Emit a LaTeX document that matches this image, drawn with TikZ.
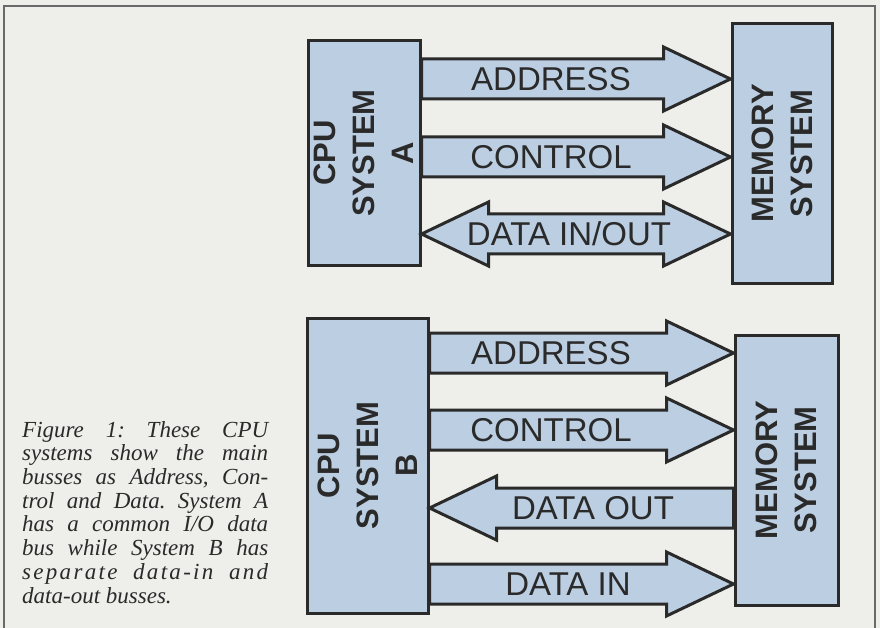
\documentclass[tikz,border=0pt]{standalone}
\usepackage{fontspec}
\setmainfont{Liberation Serif}
\setsansfont{Liberation Sans}
\usetikzlibrary{calc}
\definecolor{busBlue}{RGB}{188,206,226}
\definecolor{paperGrey}{RGB}{238,238,235}
\definecolor{inkGrey}{RGB}{42,42,42}
\definecolor{frameGrey}{RGB}{105,105,105}
\pgfmathsetmacro{\shaftHalf}{20}
\pgfmathsetmacro{\headHalf}{32}
\pgfmathsetmacro{\headLen}{67}
\newcommand{\busRight}[4]{%%
  %% A bus from the CPU to the memory.
  \draw[busStyle] let \p1=(#1.east), \p2=(#2.west), \p3=(#3) in
    (\x1,\y3+\shaftHalf pt) -- (\x2-\headLen pt,\y3+\shaftHalf pt)
    -- (\x2-\headLen pt,\y3+\headHalf pt) -- (\x2,\y3)
    -- (\x2-\headLen pt,\y3-\headHalf pt) -- (\x2-\headLen pt,\y3-\shaftHalf pt)
    -- (\x1,\y3-\shaftHalf pt) -- cycle;
  \node[busLabel] (#3Text) at (#3) {#4};
}
\newcommand{\busLeft}[4]{%%
  %% A bus from the memory back to the CPU.
  \draw[busStyle] let \p1=(#1.west), \p2=(#2.east), \p3=(#3) in
    (\x1,\y3+\shaftHalf pt) -- (\x2+\headLen pt,\y3+\shaftHalf pt)
    -- (\x2+\headLen pt,\y3+\headHalf pt) -- (\x2,\y3)
    -- (\x2+\headLen pt,\y3-\headHalf pt) -- (\x2+\headLen pt,\y3-\shaftHalf pt)
    -- (\x1,\y3-\shaftHalf pt) -- cycle;
  \node[busLabel] (#3Text) at (#3) {#4};
}
\newcommand{\busBoth}[4]{%%
  %% A bus with a head at each end.
  \draw[busStyle] let \p1=(#1.east), \p2=(#2.west), \p3=(#3) in
    (\x1,\y3) -- (\x1+\headLen pt,\y3+\headHalf pt)
    -- (\x1+\headLen pt,\y3+\shaftHalf pt) -- (\x2-\headLen pt,\y3+\shaftHalf pt)
    -- (\x2-\headLen pt,\y3+\headHalf pt) -- (\x2,\y3)
    -- (\x2-\headLen pt,\y3-\headHalf pt) -- (\x2-\headLen pt,\y3-\shaftHalf pt)
    -- (\x1+\headLen pt,\y3-\shaftHalf pt) -- (\x1+\headLen pt,\y3-\headHalf pt)
    -- cycle;
  \node[busLabel] (#3Text) at (#3) {#4};
}
\begin{document}
\begin{tikzpicture}[%%
  x=1pt,y=-1pt,%%
  boxStyle/.style={draw=inkGrey,line width=3pt,fill=busBlue,inner sep=0pt},%%
  boxText/.style={rotate=90,align=center,inner sep=0pt,text=inkGrey,%%
    font=\sffamily\bfseries\fontsize{31}{39}\selectfont},%%
  busStyle/.style={draw=inkGrey,line width=3pt,fill=busBlue,line join=miter},%%
  busLabel/.style={inner sep=0pt,text=inkGrey,font=\sffamily\fontsize{33}{33}\selectfont},%%
  captionStyle/.style={inner sep=0pt,text width=246pt,align=justify,text=inkGrey,%%
    font=\itshape\fontsize{23}{23.7}\selectfont},%%
  frameStyle/.style={draw=frameGrey,line width=1.5pt}
]
%%
%%
\useasboundingbox (0,0) rectangle (880,628);
\fill[paperGrey] (0,0) rectangle (880,628);
\draw[frameStyle] (4,628) -- (4,6) -- (875,6) -- (875,628);
%% System A.
\node[boxStyle,minimum width=112pt,minimum height=224pt] (cpuA) at (364,153) {};
\node[boxStyle,minimum width=100pt,minimum height=259pt] (memA) at (782,153.5) {};
\coordinate (addrA) at (551,79);
\coordinate (ctrlA) at (551,157);
\coordinate (dataA) at (569,234);
\busRight{cpuA}{memA}{addrA}{ADDRESS}
\busRight{cpuA}{memA}{ctrlA}{CONTROL}
\busBoth{cpuA}{memA}{dataA}{DATA IN/OUT}
\node[boxText] (cpuAText) at (cpuA) {CPU\\SYSTEM\\A};
\node[boxText] (memAText) at (memA) {MEMORY\\SYSTEM};
%% System B.
\node[boxStyle,minimum width=121pt,minimum height=295pt] (cpuB) at (367.5,465.5) {};
\node[boxStyle,minimum width=103pt,minimum height=270pt] (memB) at (786.5,470) {};
\coordinate (addrB) at (551,353);
\coordinate (ctrlB) at (551,430);
\coordinate (dataOutB) at (593,508);
\coordinate (dataInB) at (568,584);
\busRight{cpuB}{memB}{addrB}{ADDRESS}
\busRight{cpuB}{memB}{ctrlB}{CONTROL}
\busLeft{memB}{cpuB}{dataOutB}{DATA OUT}
\busRight{cpuB}{memB}{dataInB}{DATA IN}
\node[boxText] (cpuBText) at (cpuB) {CPU\\SYSTEM\\B};
\node[boxText] (memBText) at (memB) {MEMORY\\SYSTEM};
%% The caption.
\node[captionStyle,anchor=north west] (caption) at (22,421) {%%
  \frenchspacing\tolerance=10000\relax\hyphenpenalty=10000\relax\exhyphenpenalty=10000\relax
  Figure 1: These CPU\linebreak
  systems show the main\linebreak busses as Address, Con-\linebreak
  trol and Data. System A\linebreak has a common I/O data\linebreak
  bus while System B has\linebreak
  {\addfontfeature{LetterSpace=10}separate data-in and}\linebreak
  data-out busses.};
\end{tikzpicture}
\end{document}
